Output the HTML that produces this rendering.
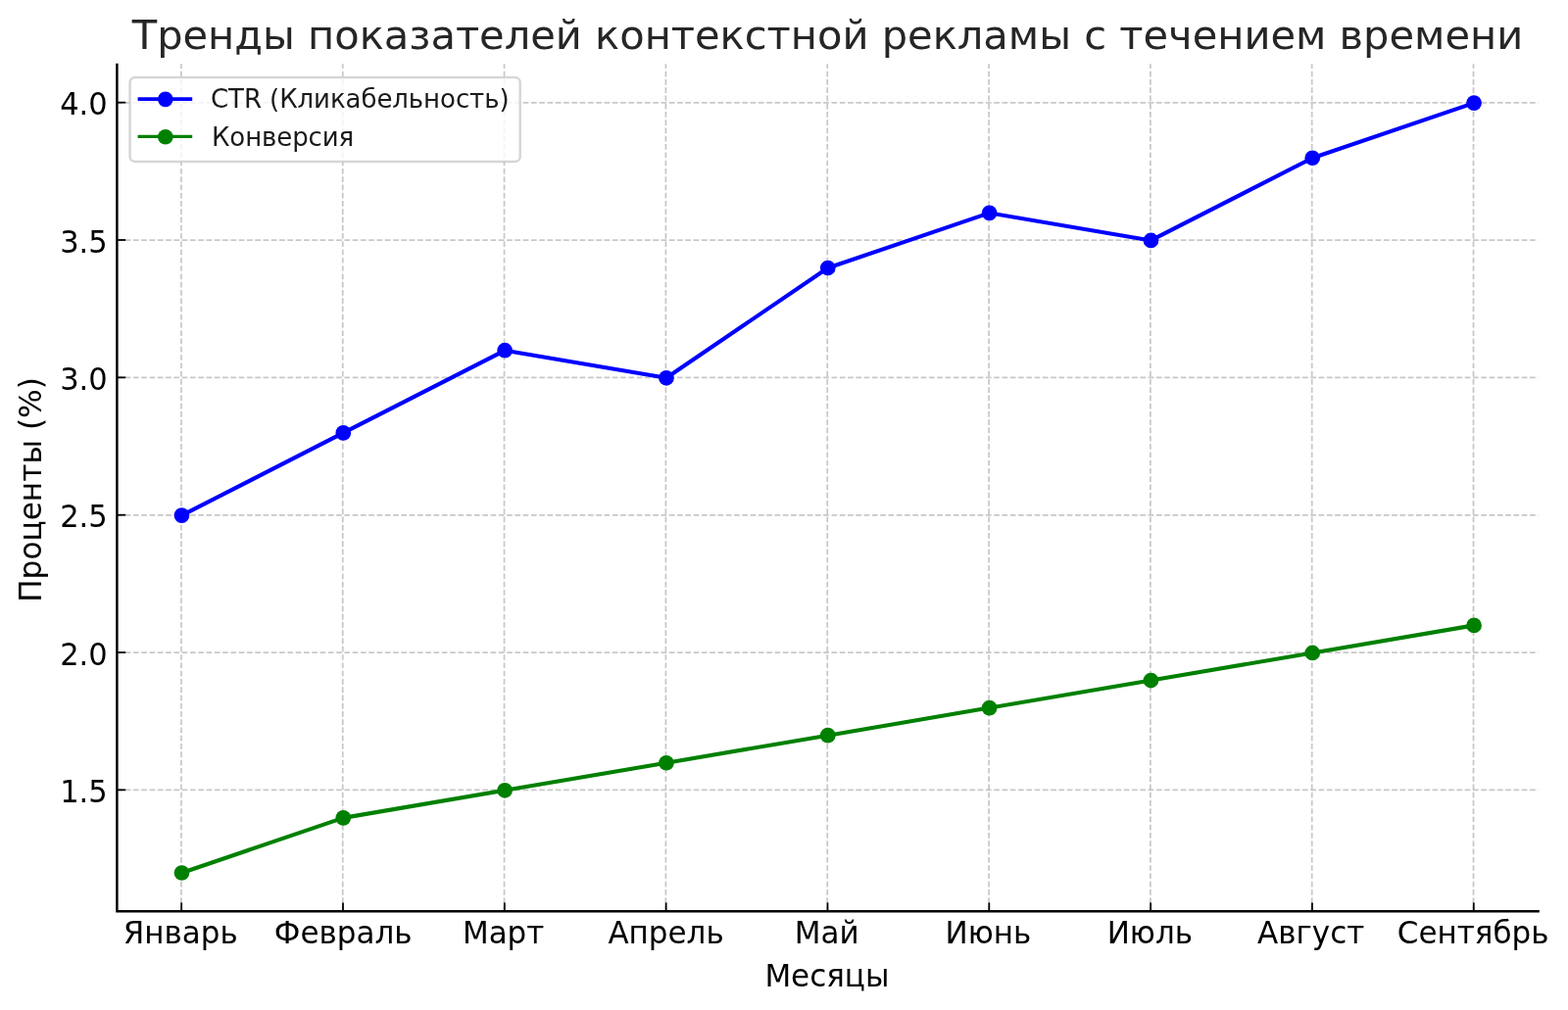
<!DOCTYPE html>
<html lang="ru"><head><meta charset="utf-8"><title>Тренды показателей контекстной рекламы</title>
<style>html,body{margin:0;padding:0;background:#fff}body{width:1600px;height:1031px;overflow:hidden}svg{display:block}text{font-family:"DejaVu Sans","Liberation Sans",sans-serif;fill:#000}</style></head><body>
<svg width="1600" height="1031" viewBox="0 0 1600 1031">
<rect width="1600" height="1031" fill="#fff"/>
<g stroke="#b0b0b0" stroke-opacity="0.7" stroke-width="1.75" stroke-dasharray="5.7 2.57" fill="none">
<path d="M184.92 930.20V65.30"/>
<path d="M349.74 930.20V65.30"/>
<path d="M514.57 930.20V65.30"/>
<path d="M679.39 930.20V65.30"/>
<path d="M844.22 930.20V65.30"/>
<path d="M1009.05 930.20V65.30"/>
<path d="M1173.87 930.20V65.30"/>
<path d="M1338.69 930.20V65.30"/>
<path d="M1503.52 930.20V65.30"/>
<path stroke-dasharray="5.71 2.575" d="M119.40 806.45H1569.60"/>
<path stroke-dasharray="5.71 2.575" d="M119.40 666.11H1569.60"/>
<path stroke-dasharray="5.71 2.575" d="M119.40 525.77H1569.60"/>
<path stroke-dasharray="5.71 2.575" d="M119.40 385.43H1569.60"/>
<path stroke-dasharray="5.71 2.575" d="M119.40 245.09H1569.60"/>
<path stroke-dasharray="5.71 2.575" d="M119.40 104.75H1569.60"/>
</g>
<g stroke="#000" stroke-width="1.8" fill="none">
<path d="M185.17 930.20v-8.8"/>
<path d="M349.99 930.20v-8.8"/>
<path d="M514.82 930.20v-8.8"/>
<path d="M679.64 930.20v-8.8"/>
<path d="M844.47 930.20v-8.8"/>
<path d="M1009.30 930.20v-8.8"/>
<path d="M1174.12 930.20v-8.8"/>
<path d="M1338.94 930.20v-8.8"/>
<path d="M1503.77 930.20v-8.8"/>
<path d="M119.40 806.35h8.8"/>
<path d="M119.40 666.01h8.8"/>
<path d="M119.40 525.67h8.8"/>
<path d="M119.40 385.33h8.8"/>
<path d="M119.40 244.99h8.8"/>
<path d="M119.40 104.65h8.8"/>
</g>
<polyline points="185.47,526.12 350.29,441.92 515.12,357.71 679.94,385.78 844.77,273.51 1009.60,217.37 1174.42,245.44 1339.24,161.24 1504.07,105.10" fill="none" stroke="#0000ff" stroke-width="4.1" stroke-linejoin="round" stroke-linecap="butt"/>
<circle cx="185.47" cy="526.12" r="7.85" fill="#0000ff"/>
<circle cx="350.29" cy="441.92" r="7.85" fill="#0000ff"/>
<circle cx="515.12" cy="357.71" r="7.85" fill="#0000ff"/>
<circle cx="679.94" cy="385.78" r="7.85" fill="#0000ff"/>
<circle cx="844.77" cy="273.51" r="7.85" fill="#0000ff"/>
<circle cx="1009.60" cy="217.37" r="7.85" fill="#0000ff"/>
<circle cx="1174.42" cy="245.44" r="7.85" fill="#0000ff"/>
<circle cx="1339.24" cy="161.24" r="7.85" fill="#0000ff"/>
<circle cx="1504.07" cy="105.10" r="7.85" fill="#0000ff"/>
<polyline points="185.47,891.00 350.29,834.87 515.12,806.80 679.94,778.73 844.77,750.66 1009.60,722.60 1174.42,694.53 1339.24,666.46 1504.07,638.39" fill="none" stroke="#008000" stroke-width="4.1" stroke-linejoin="round" stroke-linecap="butt"/>
<circle cx="185.47" cy="891.00" r="7.85" fill="#008000"/>
<circle cx="350.29" cy="834.87" r="7.85" fill="#008000"/>
<circle cx="515.12" cy="806.80" r="7.85" fill="#008000"/>
<circle cx="679.94" cy="778.73" r="7.85" fill="#008000"/>
<circle cx="844.77" cy="750.66" r="7.85" fill="#008000"/>
<circle cx="1009.60" cy="722.60" r="7.85" fill="#008000"/>
<circle cx="1174.42" cy="694.53" r="7.85" fill="#008000"/>
<circle cx="1339.24" cy="666.46" r="7.85" fill="#008000"/>
<circle cx="1504.07" cy="638.39" r="7.85" fill="#008000"/>
<path d="M119.40 65.95V930.20H1569.60" fill="none" stroke="#000" stroke-width="2.4" stroke-linecap="square" stroke-linejoin="miter"/>
<text transform="translate(184.22 963.0) scale(1 1.035)" font-size="31.0" text-anchor="middle">Январь</text>
<text transform="translate(350.19 963.0) scale(1 1.035)" font-size="31.0" text-anchor="middle">Февраль</text>
<text transform="translate(513.62 963.0) scale(1 1.035)" font-size="31.0" text-anchor="middle">Март</text>
<text transform="translate(679.54 963.0) scale(1 1.035)" font-size="31.0" text-anchor="middle">Апрель</text>
<text transform="translate(843.67 963.0) scale(1 1.035)" font-size="31.0" text-anchor="middle">Май</text>
<text transform="translate(1008.35 963.0) scale(1 1.035)" font-size="31.0" text-anchor="middle">Июнь</text>
<text transform="translate(1173.32 963.0) scale(1 1.035)" font-size="31.0" text-anchor="middle">Июль</text>
<text transform="translate(1337.64 963.0) scale(1 1.035)" font-size="31.0" text-anchor="middle">Август</text>
<text transform="translate(1503.17 963.0) scale(1 1.035)" font-size="31.0" text-anchor="middle">Сентябрь</text>
<text transform="translate(109.7 819.15) scale(0.985 1.045)" font-size="31.0" text-anchor="end">1.5</text>
<text transform="translate(109.7 678.81) scale(0.985 1.045)" font-size="31.0" text-anchor="end">2.0</text>
<text transform="translate(109.7 538.47) scale(0.985 1.045)" font-size="31.0" text-anchor="end">2.5</text>
<text transform="translate(109.7 398.13) scale(0.985 1.045)" font-size="31.0" text-anchor="end">3.0</text>
<text transform="translate(109.7 257.79) scale(0.985 1.045)" font-size="31.0" text-anchor="end">3.5</text>
<text transform="translate(109.7 117.45) scale(0.985 1.045)" font-size="31.0" text-anchor="end">4.0</text>
<text transform="translate(843.90 1006.5) scale(1 1.035)" font-size="31.0" text-anchor="middle">Месяцы</text>
<text transform="translate(41.8 500.00) rotate(-90) scale(1.006 1.035)" font-size="31.0" text-anchor="middle">Проценты (%)</text>
<text x="844.50" y="50" font-size="41.58" text-anchor="middle" style="fill:#262626">Тренды показателей контекстной рекламы с течением времени</text>
<g>
<rect x="132.6" y="79.05" width="398.1" height="85.9" rx="5" ry="5" fill="#fff" fill-opacity="0.8" stroke="#ccc" stroke-opacity="0.8" stroke-width="2.5"/>
<path d="M140.6 101.05h55.6" stroke="#0000ff" stroke-width="3.8" fill="none"/>
<circle cx="168.8" cy="101.35" r="7.85" fill="#0000ff"/>
<text x="215.00" y="109.95" font-size="26.0" letter-spacing="-0.07" style="fill:#1a1a1a">CTR (Кликабельность)</text>
<path d="M140.6 139.45h55.6" stroke="#008000" stroke-width="3.3" fill="none"/>
<circle cx="168.8" cy="139.75" r="7.85" fill="#008000"/>
<text x="216.00" y="149.05" font-size="26.0" letter-spacing="-0.1" style="fill:#1a1a1a">Конверсия</text>
</g>
</svg></body></html>
